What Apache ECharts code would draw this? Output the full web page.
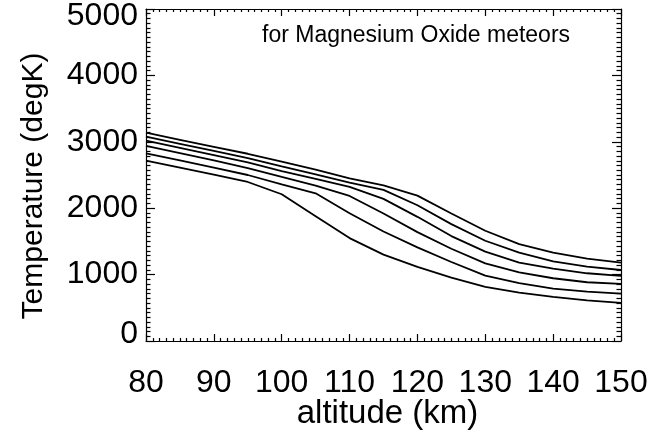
<!DOCTYPE html>
<html>
<head>
<meta charset="utf-8">
<script src="https://cdn.jsdelivr.net/npm/echarts@6/dist/echarts.min.js"></script>
<style>
html,body{margin:0;padding:0;background:#fff;}
#chart{width:660px;height:432px;}
</style>
</head>
<body>
<div id="chart"></div>
<script>
// altitude (km) sample points
var altitude = [80, 85, 90, 95, 100, 105, 110, 115, 120, 125, 130, 135, 140, 145, 150];
// temperature curves (degK), top to bottom
var curveA = [3137, 3030, 2925, 2820, 2700, 2580, 2450, 2345, 2190, 1920, 1660, 1460, 1330, 1240, 1179];
var curveB = [3077, 2970, 2865, 2755, 2630, 2510, 2385, 2275, 2045, 1760, 1510, 1330, 1200, 1120, 1069];
var curveC = [3017, 2910, 2800, 2690, 2560, 2440, 2320, 2140, 1870, 1580, 1345, 1180, 1090, 1020, 980];
var curveD = [2937, 2830, 2720, 2605, 2470, 2340, 2184, 1920, 1640, 1390, 1170, 1035, 945, 885, 860];
var curveE = [2827, 2720, 2610, 2500, 2360, 2224, 1925, 1650, 1410, 1190, 985, 870, 790, 745, 715];
var curveF = [2715, 2610, 2505, 2395, 2210, 1880, 1550, 1300, 1115, 955, 815, 730, 665, 612, 575];
var curves = [curveA, curveB, curveC, curveD, curveE, curveF];

var xTicks = {min: 80, max: 150, interval: 10};
var yTicks = {min: 0, max: 5000, interval: 1000};
var titleText = 'for Magnesium Oxide meteors';
var xName = 'altitude (km)';
var yName = 'Temperature (degK)';

var FONT = 'Liberation Sans';
var chart = echarts.init(document.getElementById('chart'), null, {renderer: 'canvas'});

function pairs(ys) {
  return ys.map(function (v, i) { return [altitude[i], v]; });
}

var lineStyle = {color: '#000', width: 1.2};
function xAx(pos, showLabel) {
  return {
    type: 'value', position: pos, min: xTicks.min, max: xTicks.max, interval: xTicks.interval,
    axisLine: {show: true, onZero: false, lineStyle: lineStyle},
    axisTick: {show: true, inside: true, length: 7, lineStyle: lineStyle},
    minorTick: {show: true, splitNumber: 10, length: 3, lineStyle: lineStyle},
    splitLine: {show: false},
    axisLabel: {show: showLabel, fontSize: 32, color: '#000', fontFamily: FONT, margin: 26},
    name: showLabel ? xName : '', nameLocation: 'middle', nameGap: 56, nameMoveOverlap: false,
    nameTextStyle: {fontSize: 33, color: '#000', fontFamily: FONT, padding: [0, 0, 0, 8]}
  };
}
function yAx(pos, showLabel) {
  return {
    type: 'value', position: pos, min: yTicks.min, max: yTicks.max, interval: yTicks.interval,
    axisLine: {show: true, onZero: false, lineStyle: lineStyle},
    axisTick: {show: true, inside: true, length: 9, lineStyle: lineStyle},
    minorTick: {show: true, splitNumber: 14, length: 4.5, lineStyle: lineStyle},
    splitLine: {show: false},
    axisLabel: {
      show: showLabel, fontSize: 32, color: '#000', fontFamily: FONT, margin: 8,
      formatter: function (v) {
        if (v === yTicks.min) return '{lo|' + v + '}';
        if (v === yTicks.max) return '{hi|' + v + '}';
        return '{n|' + v + '}';
      },
      rich: {
        lo: {fontSize: 32, fontFamily: FONT, color: '#000', padding: [0, 0, 14, 0]},
        hi: {fontSize: 32, fontFamily: FONT, color: '#000', padding: [14, 0, 0, 0]},
        n: {fontSize: 32, fontFamily: FONT, color: '#000'}
      }
    },
    name: showLabel ? yName : '', nameLocation: 'middle', nameGap: 97, nameMoveOverlap: false,
    nameTextStyle: {fontSize: 30, color: '#000', fontFamily: FONT, padding: [0, 22, 0, 0]}
  };
}

var series = curves.map(function (c, i) {
  return {
    type: 'line', name: 'c' + i, data: pairs(c), xAxisIndex: 0, yAxisIndex: 0,
    showSymbol: false, symbol: 'none', smooth: false,
    lineStyle: {color: '#000', width: 1.8}, z: 3
  };
});

chart.setOption({
  animation: false,
  backgroundColor: '#fff',
  grid: {left: 146, right: 39, top: 9, bottom: 91, containLabel: false, outerBoundsMode: 'none'},
  xAxis: [xAx('bottom', true), xAx('top', false)],
  yAxis: [yAx('left', true), yAx('right', false)],
  graphic: [{
    type: 'text', left: 262, top: 24, z: 10,
    style: {text: titleText, fontSize: 23, fontFamily: FONT, fill: '#000'}
  }],
  series: series
});
</script>
</body>
</html>
